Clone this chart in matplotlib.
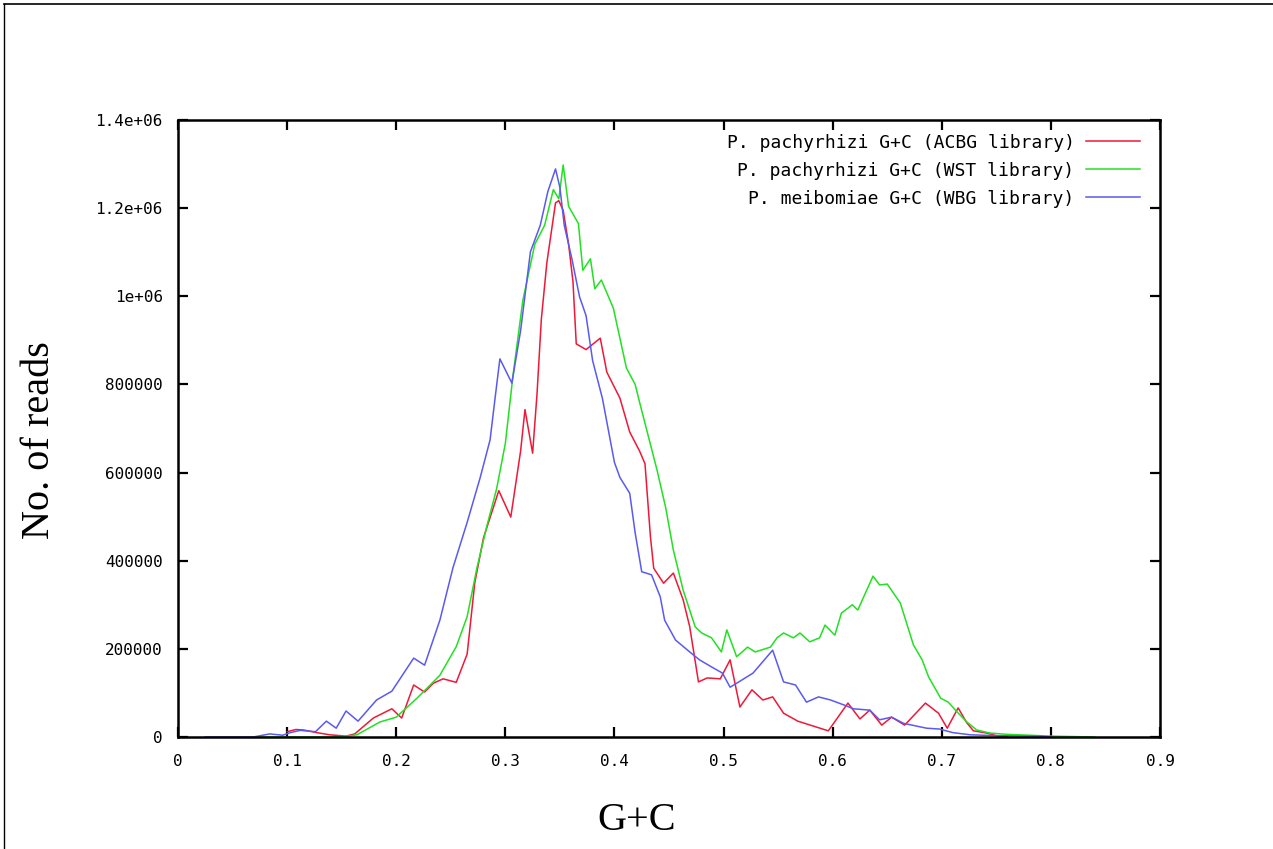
import matplotlib
matplotlib.use("Agg")
import matplotlib.pyplot as plt
from matplotlib.lines import Line2D

# ---- data ----
acbg_x = [0.100, 0.108, 0.115, 0.127, 0.139, 0.154, 0.162, 0.179, 0.196, 0.205, 0.216, 0.226, 0.234, 0.243,
          0.255, 0.265, 0.272, 0.280, 0.288, 0.294, 0.305, 0.314, 0.318, 0.325, 0.329, 0.333, 0.338, 0.346,
          0.349, 0.353, 0.358, 0.362, 0.365, 0.374, 0.387, 0.393, 0.405, 0.414, 0.423, 0.428, 0.433, 0.436,
          0.445, 0.454, 0.463, 0.469, 0.477, 0.485, 0.497, 0.506, 0.515, 0.526, 0.536, 0.545, 0.555, 0.568,
          0.596, 0.614, 0.625, 0.634, 0.645, 0.654, 0.666, 0.685, 0.697, 0.705, 0.715, 0.723, 0.729, 0.741,
          0.750, 0.760]
acbg_y = [12000, 17000, 16000, 10000, 5000, 2000, 7000, 43000, 64000, 43000, 118000, 102000, 122000, 132000,
          124000, 188000, 350000, 452000, 513000, 559000, 499000, 649000, 743000, 644000, 777000, 948000, 1075000, 1212000,
          1217000, 1195000, 1118000, 1033000, 892000, 879000, 905000, 828000, 769000, 692000, 649000, 620000, 454000, 383000,
          349000, 372000, 311000, 250000, 125000, 134000, 132000, 175000, 68000, 107000, 84000, 91000, 54000, 36000,
          14000, 77000, 41000, 61000, 27000, 45000, 27000, 77000, 54000, 20000, 66000, 32000, 14000, 9000,
          3000, 0]

wst_x = [0.069, 0.140, 0.155, 0.164, 0.185, 0.200, 0.219, 0.240, 0.255, 0.265, 0.274, 0.283, 0.292, 0.300,
         0.307, 0.316, 0.327, 0.336, 0.344, 0.349, 0.353, 0.358, 0.367, 0.371, 0.378, 0.382, 0.388, 0.399,
         0.411, 0.419, 0.423, 0.439, 0.447, 0.454, 0.463, 0.474, 0.480, 0.489, 0.498, 0.503, 0.512, 0.522,
         0.529, 0.543, 0.549, 0.555, 0.564, 0.570, 0.579, 0.588, 0.593, 0.602, 0.608, 0.618, 0.623, 0.637,
         0.643, 0.650, 0.662, 0.674, 0.682, 0.688, 0.699, 0.706, 0.714, 0.723, 0.732, 0.744, 0.760, 0.800,
         0.840]
wst_y = [0, 0, 2000, 5000, 34000, 45000, 88000, 140000, 205000, 273000, 384000, 478000, 563000, 666000,
         820000, 990000, 1118000, 1161000, 1242000, 1221000, 1298000, 1204000, 1165000, 1059000, 1085000, 1017000, 1037000, 973000,
         837000, 800000, 760000, 606000, 520000, 424000, 333000, 250000, 236000, 225000, 193000, 243000, 182000, 204000,
         193000, 204000, 225000, 236000, 225000, 236000, 216000, 225000, 254000, 231000, 281000, 300000, 288000, 365000,
         345000, 347000, 304000, 209000, 175000, 136000, 88000, 79000, 57000, 34000, 16000, 9000, 6000, 2000,
         0]

wbg_x = [0.025, 0.069, 0.084, 0.096, 0.103, 0.112, 0.126, 0.136, 0.145, 0.154, 0.165, 0.182, 0.196, 0.216,
         0.226, 0.240, 0.252, 0.265, 0.277, 0.286, 0.291, 0.295, 0.306, 0.314, 0.323, 0.332, 0.339, 0.346,
         0.350, 0.354, 0.361, 0.368, 0.374, 0.380, 0.389, 0.400, 0.405, 0.414, 0.419, 0.425, 0.434, 0.442,
         0.446, 0.456, 0.469, 0.478, 0.489, 0.499, 0.506, 0.512, 0.527, 0.545, 0.555, 0.566, 0.576, 0.587,
         0.598, 0.610, 0.619, 0.634, 0.643, 0.654, 0.665, 0.686, 0.698, 0.710, 0.726, 0.750, 0.790, 0.800]
wbg_y = [0, 0, 7000, 4000, 10000, 15000, 12000, 36000, 20000, 59000, 36000, 84000, 104000, 179000,
         163000, 265000, 384000, 487000, 589000, 674000, 777000, 858000, 803000, 922000, 1101000, 1161000, 1238000, 1289000,
         1247000, 1161000, 1085000, 999000, 956000, 854000, 768000, 623000, 589000, 553000, 463000, 375000, 368000, 318000,
         265000, 220000, 193000, 175000, 159000, 145000, 113000, 122000, 145000, 197000, 125000, 118000, 79000, 91000,
         84000, 73000, 64000, 61000, 39000, 45000, 31000, 20000, 18000, 10000, 5000, 3000, 2000, 0]

series_labels = ["P. pachyrhizi G+C (ACBG library)",
                 "P. pachyrhizi G+C (WST library)",
                 "P. meibomiae G+C (WBG library)"]
x_ticks = [0, 0.1, 0.2, 0.3, 0.4, 0.5, 0.6, 0.7, 0.8, 0.9]
x_tick_labels = ["0", "0.1", "0.2", "0.3", "0.4", "0.5", "0.6", "0.7", "0.8", "0.9"]
y_ticks = [0, 200000, 400000, 600000, 800000, 1000000, 1200000, 1400000]
y_tick_labels = ["0", "200000", "400000", "600000", "800000", "1e+06", "1.2e+06", "1.4e+06"]

W, H = 1273, 849
fig = plt.figure(figsize=(W / 100, H / 100), dpi=100)
fig.patch.set_facecolor("white")

ax = fig.add_axes([178 / W, (H - 737) / H, (1160 - 178) / W, (737 - 120) / H])

mono = "DejaVu Sans Mono"
colors = ["#f01838", "#22e022", "#5a5af0"]
for xs, ys, c, lab in zip([acbg_x, wst_x, wbg_x], [acbg_y, wst_y, wbg_y], colors, series_labels):
    ax.plot(xs, ys, color=c, lw=1.1, label=lab)

ax.set_xlim(0, 0.9)
ax.set_ylim(0, 1400000)
ax.set_xticks(x_ticks)
ax.set_xticklabels(x_tick_labels, family=mono, fontsize=11.5)
ax.set_yticks(y_ticks)
ax.set_yticklabels(y_tick_labels, family=mono, fontsize=11.5)
ax.tick_params(direction="in", length=7, width=1.6, top=True, right=True)
ax.tick_params(axis="y", pad=11)
ax.tick_params(axis="x", pad=12)
for s in ax.spines.values():
    s.set_linewidth(1.8)

leg = ax.legend(loc="upper right", markerfirst=False, frameon=False,
                prop={"family": mono, "size": 13.0}, handlelength=3.0,
                handletextpad=0.65, labelspacing=0.56, borderaxespad=0.5,
                borderpad=0.25, bbox_to_anchor=(1 - 6 / 982, 1))

fig.text(40 / W, 1 - 440 / H, "No. of reads", rotation=90, ha="center", va="center",
         family="Liberation Serif", fontsize=29)
fig.text(637 / W, 1 - 820 / H, "G+C", ha="center", va="center",
         family="Liberation Serif", fontsize=29)

# slide frame lines (top and left)
fig.add_artist(Line2D([4 / W, 1], [1 - 4 / H, 1 - 4 / H], color="black", lw=1.2, transform=fig.transFigure))
fig.add_artist(Line2D([4 / W, 4 / W], [1 - 4 / H, 0], color="black", lw=1.0, transform=fig.transFigure))

fig.savefig("out.png", dpi=100, facecolor="white")
